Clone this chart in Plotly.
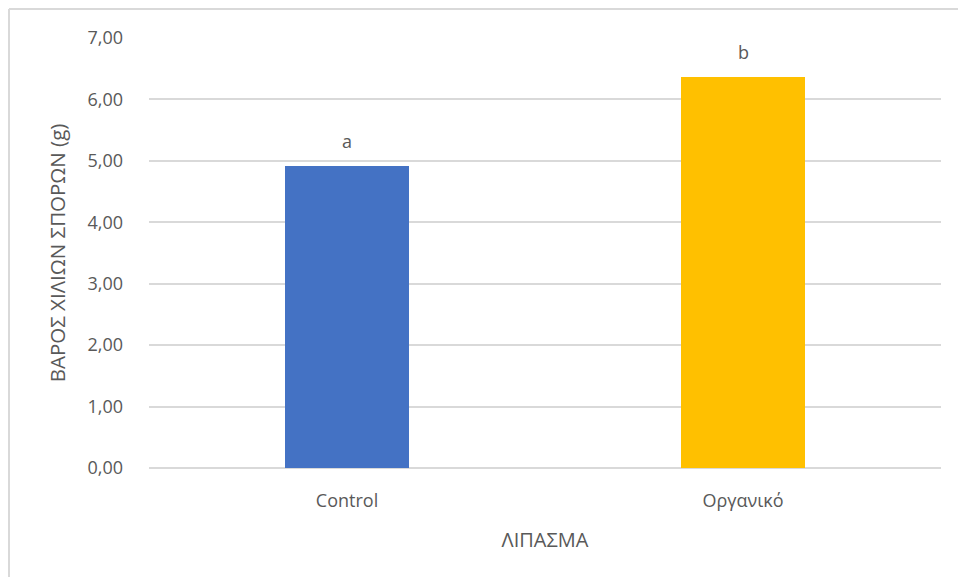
import plotly.graph_objects as go

categories = ["Control", "Οργανικό"]
values = [4.91, 6.37]
letters = ["a", "b"]
bar_colors = ["#4472C4", "#FFC000"]
tick_vals = [0, 1, 2, 3, 4, 5, 6, 7]
tick_text = ["0,00", "1,00", "2,00", "3,00", "4,00", "5,00", "6,00", "7,00"]

FONT = "Open Sans"
TXT = "#595959"

fig = go.Figure()
fig.add_trace(go.Bar(
    x=categories, y=values,
    marker=dict(color=bar_colors, line=dict(width=0)),
    width=0.313,
    hoverinfo="x+y",
))

for c, v, t in zip(categories, values, letters):
    fig.add_annotation(x=c, y=v, text=t, showarrow=False, yanchor="bottom",
                       yshift=11, font=dict(family=FONT, size=18, color=TXT))

L, T = 149, 38
pw, ph = 792, 430
W, H = 958, 577
R = W - L - pw
B = H - T - ph

bx0 = (9 - L) / pw
bx1 = (W + 20 - L) / pw
by0 = -(B + 20) / ph
by1 = 1 + (T - 9) / ph
border = dict(color="#D9D9D9", width=2)
fig.add_shape(type="line", xref="paper", yref="paper",
              x0=bx0, x1=bx1, y0=by1, y1=by1, line=border, layer="below")
fig.add_shape(type="line", xref="paper", yref="paper",
              x0=bx0, x1=bx0, y0=by0, y1=by1, line=border, layer="below")

fig.update_layout(
    width=W, height=H,
    margin=dict(l=L, r=R, t=T, b=B),
    paper_bgcolor="white", plot_bgcolor="white",
    showlegend=False,
    font=dict(family=FONT, color=TXT),
    bargap=0,
)
fig.update_xaxes(
    showgrid=False, showline=False, zeroline=False,
    tickfont=dict(family=FONT, size=18, color=TXT),
    ticklabelstandoff=20,
    title=dict(text="ΛΙΠΑΣΜΑ", font=dict(family=FONT, size=20, color=TXT), standoff=21),
)
fig.update_yaxes(
    range=[0, 7], tickvals=tick_vals, ticktext=tick_text,
    showgrid=True, gridcolor="#D9D9D9", gridwidth=2,
    zeroline=True, zerolinecolor="#D9D9D9", zerolinewidth=2,
    showline=False,
    tickfont=dict(family=FONT, size=18, color=TXT),
    ticklabelstandoff=25,
    title=dict(text="ΒΑΡΟΣ ΧΙΛΙΩΝ ΣΠΟΡΩΝ (g)", font=dict(family=FONT, size=20.5, color=TXT), standoff=16),
)

fig.write_html(
    "out.html",
    config={"displayModeBar": False},
    post_script="document.body.style.margin='0';document.body.style.overflow='hidden';",
)
